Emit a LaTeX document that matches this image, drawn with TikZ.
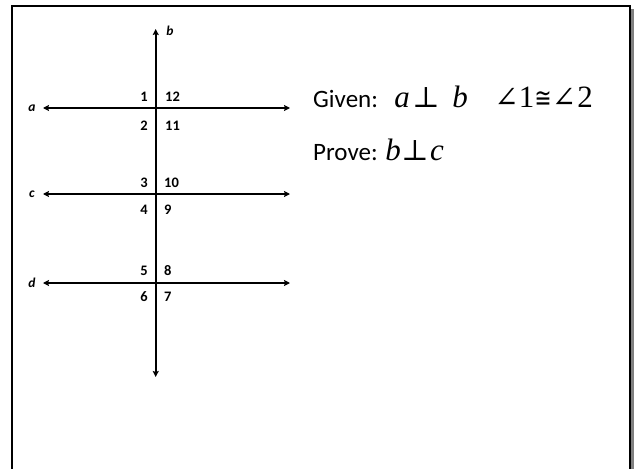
\documentclass[tikz,border=0pt]{standalone}
\usepackage{graphicx}
\usepackage{fontspec}
\setmainfont{Carlito}
\newfontfamily\tnr{Liberation Serif}
\newfontfamily\symf{DejaVu Serif}
\newfontfamily\symg{DejaVu Sans}
\usetikzlibrary{arrows.meta}
\begin{document}
\begin{tikzpicture}[x=1pt,y=-1pt,
  ln/.style={line width=1.8pt, {Stealth[length=6pt,width=6pt,inset=1pt]}-{Stealth[length=6pt,width=6pt,inset=1pt]}},
  num/.style={font=\fontsize{14.5}{14.5}\selectfont\bfseries, inner sep=0pt},
  lbl/.style={font=\fontsize{13.5}{13.5}\selectfont\bfseries\itshape, inner sep=0pt},
  txt/.style={font=\fontsize{25}{25}\selectfont, inner sep=0pt, anchor=base west},
  mth/.style={font=\fontsize{31}{31}\selectfont\tnr, inner sep=0pt, anchor=base},
  sym/.style={font=\fontsize{29}{29}\selectfont\symf, inner sep=0pt, anchor=base},
  symg/.style={font=\fontsize{27}{27}\selectfont\symg, inner sep=0pt, anchor=base},
]
\useasboundingbox (0,0) rectangle (639,468);
\clip (0,0) rectangle (639,468);
% frame with shadow
\fill[gray] (15,9) rectangle (634,480);
\draw[line width=2.2pt, fill=white] (12,6) rectangle (630,480);
% transversal b
\coordinate (bt) at (155.7,29);
\coordinate (bb) at (155.7,377);
\draw[ln] (bb) -- (bt);
% lines a, c, d
\coordinate (al) at (43,108);  \coordinate (ar) at (290,108);
\coordinate (cl) at (43,194);  \coordinate (cr) at (290,194);
\coordinate (dl) at (43,283);  \coordinate (dr) at (290,283);
\draw[ln] (al) -- (ar);
\draw[ln] (cl) -- (cr);
\draw[ln] (dl) -- (dr);
% line labels
\node[lbl] (la) at (32,108) {a};
\node[lbl] (lc) at (32,194) {c};
\node[lbl] (ld) at (32,283) {d};
\node[lbl] (lb) at (170,31) {b};
% angle numbers
\node[num, anchor=east] (n1)  at (148,97)  {1};
\node[num, anchor=west] (n12) at (165,97)  {12};
\node[num, anchor=east] (n2)  at (148,126) {2};
\node[num, anchor=west] (n11) at (165,126) {11};
\node[num, anchor=east] (n3)  at (148,183) {3};
\node[num, anchor=west] (n10) at (164,183) {10};
\node[num, anchor=east] (n4)  at (148,210) {4};
\node[num, anchor=west] (n9)  at (164,210) {9};
\node[num, anchor=east] (n5)  at (148,271) {5};
\node[num, anchor=west] (n8)  at (164,271) {8};
\node[num, anchor=east] (n6)  at (148,297) {6};
\node[num, anchor=west] (n7)  at (164,297) {7};
% given
\node[txt] (given) at (313,107) {Given:};
\node[mth] (ga)  at (402,107) {\itshape a};
\node[sym] (gp1) at (426,107) {⊥};
\node[mth] (gb)  at (460,107) {\itshape b};
\node[sym] (gn1) at (506.5,107) {∠};
\node[mth] (g1)  at (526.5,107) {1};
\node[symg] (gc) at (543,107) {\scalebox{0.75}[1]{≅}};
\node[sym] (gn2) at (564,107) {∠};
\node[mth] (g2)  at (585,107) {2};
% prove
\node[txt] (prove) at (313,160) {Prove:};
\node[mth] (pb)  at (393,160) {\itshape b};
\node[sym] (pp)  at (415,160) {⊥};
\node[mth] (pc)  at (437,160) {\itshape c};
\end{tikzpicture}
\end{document}
